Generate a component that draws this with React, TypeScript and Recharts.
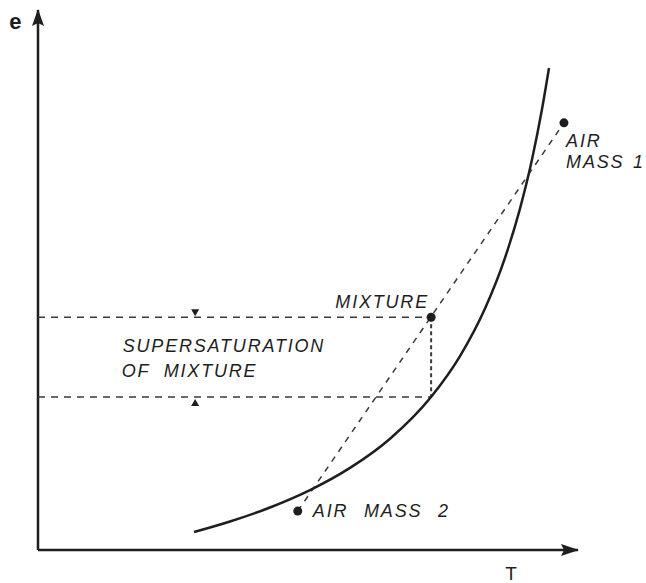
import React from 'react';
import { ComposedChart, Line, Scatter, XAxis, YAxis, ReferenceDot } from 'recharts';

// saturation vapour pressure curve (T and e in arbitrary units 0-100)
const curveT = [28.89, 35.56, 42.96, 50.37, 57.78, 65.19, 72.78, 78.15, 82.78, 86.48, 89.26, 91.48, 93.33, 94.63];
const curveE = [3.33, 5.28, 7.87, 11.09, 15.2, 20.61, 28.33, 35.91, 44.72, 54.11, 63.22, 72.31, 81.61, 89.26];

// the two air masses and their mixture
const pointNames = ['AIR MASS 1', 'MIXTURE', 'AIR MASS 2'];
const pointT = [97.4, 72.8, 48.1];
const pointE = [79.1, 43.1, 7.2];

// saturation value at the mixture temperature
const mixSatE = 28.33;

const curveData = curveT.map((t, i) => ({ t, e: curveE[i] }));
const points = pointNames.map((name, i) => ({ name, t: pointT[i], e: pointE[i] }));
const mixingLine = [points[2], points[0]];
const upperLine = [{ t: 0, e: pointE[1] }, { t: pointT[1], e: pointE[1] }];
const lowerLine = [{ t: 0, e: mixSatE }, { t: pointT[1], e: mixSatE }];
const dropLine = [{ t: pointT[1], e: pointE[1] }, { t: pointT[1], e: mixSatE }];
const tAxisLine = [{ t: 0, e: 0 }, { t: 100, e: 0 }];
const eAxisLine = [{ t: 0, e: 0 }, { t: 0, e: 100 }];

const ink = '#1e1e1e';
const dash = '#3a3a3a';
const labelFont = '"Liberation Sans", Arial, sans-serif';

// text annotations: [text, T, e, anchor, word spacing]
const labels: [string, number, number, 'start' | 'end', number][] = [
  ['MIXTURE', 72.4, 44.8, 'end', 0],
  ['SUPERSATURATION', 15.7, 36.7, 'start', 0],
  ['OF MIXTURE', 15.5, 32.0, 'start', 7],
  ['AIR', 97.8, 74.6, 'start', 0],
  ['MASS 1', 97.8, 70.7, 'start', 2],
  ['AIR MASS 2', 50.9, 6.1, 'start', 9],
];

const Dot = (props: any) => <circle cx={props.cx} cy={props.cy} r={4.5} fill={ink} />;

export default function App() {
  return (
    <div style={{ position: 'absolute', left: 0, top: 0, background: '#fff' }}>
      <ComposedChart width={646} height={583} margin={{ top: 10, right: 68, bottom: 33, left: 38 }}>
        <XAxis type="number" dataKey="t" domain={[0, 100]} hide />
        <YAxis type="number" dataKey="e" domain={[0, 100]} hide />

        <Line data={tAxisLine} dataKey="e" stroke={ink} strokeWidth={2.5} dot={false} isAnimationActive={false} />
        <Line data={eAxisLine} dataKey="e" stroke={ink} strokeWidth={2.5} dot={false} isAnimationActive={false} />

        <Line data={upperLine} dataKey="e" stroke={dash} strokeWidth={1.5} strokeDasharray="7 6" dot={false} isAnimationActive={false} />
        <Line data={lowerLine} dataKey="e" stroke={dash} strokeWidth={1.5} strokeDasharray="7 6" dot={false} isAnimationActive={false} />
        <Line data={dropLine} dataKey="e" stroke={dash} strokeWidth={2} strokeDasharray="4 3" dot={false} isAnimationActive={false} />
        <Line data={mixingLine} dataKey="e" stroke={dash} strokeWidth={1.5} strokeDasharray="6 6" dot={false} isAnimationActive={false} />
        <Line data={curveData} dataKey="e" type="monotone" stroke={ink} strokeWidth={2.5} dot={false} isAnimationActive={false} />
        <Scatter data={points} dataKey="e" shape={Dot} isAnimationActive={false} />

        {/* axis arrow heads */}
        <ReferenceDot
          x={0}
          y={100}
          ifOverflow="visible"
          shape={(p: any) => (
            <polygon points={`${p.cx},${p.cy - 1} ${p.cx - 6},${p.cy + 16} ${p.cx},${p.cy + 13} ${p.cx + 6},${p.cy + 16}`} fill={ink} />
          )}
        />
        <ReferenceDot
          x={100}
          y={0}
          ifOverflow="visible"
          shape={(p: any) => (
            <polygon points={`${p.cx + 1},${p.cy} ${p.cx - 17},${p.cy - 6} ${p.cx - 14},${p.cy} ${p.cx - 17},${p.cy + 6}`} fill={ink} />
          )}
        />

        {/* small arrows marking the supersaturation interval */}
        <ReferenceDot
          x={29.1}
          y={pointE[1]}
          ifOverflow="visible"
          shape={(p: any) => (
            <polygon points={`${p.cx},${p.cy - 1} ${p.cx - 4},${p.cy - 8} ${p.cx + 4},${p.cy - 8}`} fill={ink} />
          )}
        />
        <ReferenceDot
          x={29.1}
          y={mixSatE}
          ifOverflow="visible"
          shape={(p: any) => (
            <polygon points={`${p.cx},${p.cy + 2} ${p.cx - 4},${p.cy + 9} ${p.cx + 4},${p.cy + 9}`} fill={ink} />
          )}
        />

        {/* axis letters */}
        <ReferenceDot
          x={-4.2}
          y={96.5}
          ifOverflow="visible"
          shape={(p: any) => (
            <text x={p.cx} y={p.cy} textAnchor="middle" fontFamily={labelFont} fontWeight="bold" fontSize={22} fill={ink}>e</text>
          )}
        />
        <ReferenceDot
          x={87.6}
          y={-5.5}
          ifOverflow="visible"
          shape={(p: any) => (
            <text x={p.cx} y={p.cy} textAnchor="middle" fontFamily={labelFont} fontSize={19} fill={ink}>T</text>
          )}
        />

        {labels.map(([text, t, e, anchor, ws]) => (
          <ReferenceDot
            key={text}
            x={t}
            y={e}
            ifOverflow="visible"
            shape={(p: any) => (
              <text
                x={p.cx}
                y={p.cy}
                textAnchor={anchor}
                fontFamily={labelFont}
                fontStyle="italic"
                fontSize={18}
                letterSpacing={1.8}
                wordSpacing={ws}
                fill={ink}
              >
                {text}
              </text>
            )}
          />
        ))}
      </ComposedChart>
    </div>
  );
}
